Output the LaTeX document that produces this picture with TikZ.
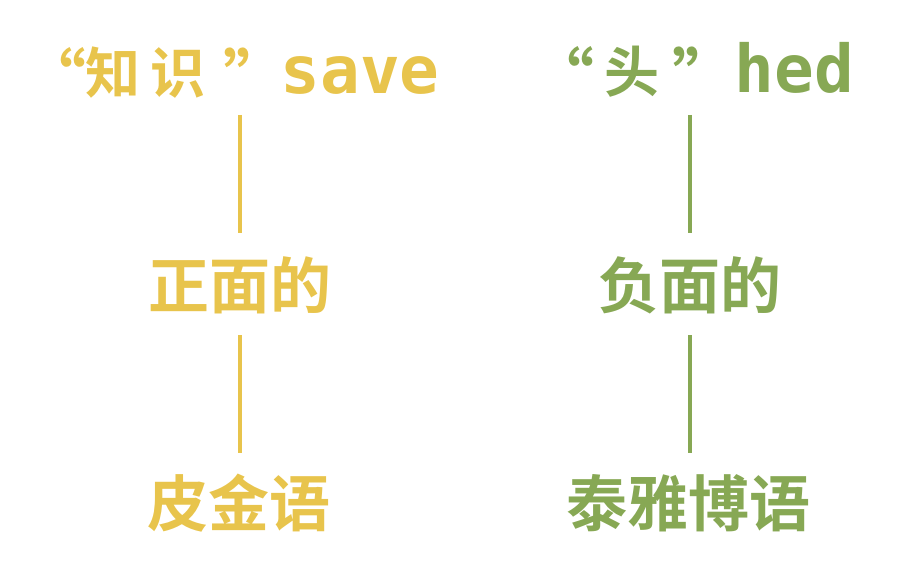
\documentclass[tikz,border=0pt]{standalone}
\usepackage{fontspec}
\newfontfamily\cjk{Noto Sans CJK SC}[BoldFont=* Bold]
\newfontfamily\lat{DejaVu Sans Mono}
\definecolor{ylw}{HTML}{E8C44C}
\definecolor{grn}{HTML}{87A854}
\newcommand\qt[1]{\raisebox{-9pt}{\fontsize{64}{64}\selectfont #1}}
\newcommand\lt[1]{{\lat\fontsize{66}{66}\selectfont #1}}
\newcommand\putat[2]{\rlap{\hspace*{#1}\makebox[0pt]{#2}}}
\tikzset{
  lbl/.style={inner sep=0pt, anchor=center},
  topf/.style={inner sep=0pt, anchor=base west, font=\cjk\bfseries\fontsize{55}{60}\selectfont},
  bigf/.style={font=\cjk\bfseries\fontsize{61}{66}\selectfont},
  conn/.style={line width=4.5pt},
}
\begin{document}
\begin{tikzpicture}[x=1pt,y=1pt]
\useasboundingbox (0,0) rectangle (902,-575);
\node[topf,text=ylw] (topL) at (50,-94) {\makebox[390pt][l]{\putat{4pt}{\qt{“}}\putat{63pt}{知}\putat{128pt}{识}\putat{205pt}{\qt{”}}\putat{310pt}{\lt{save}}}};
\node[topf,text=grn] (topR) at (560,-93) {\makebox[300pt][l]{\putat{2pt}{\qt{“}}\putat{72pt}{头}\putat{144pt}{\qt{”}}\putat{234pt}{\lt{hed}}}};
\node[lbl,bigf,text=ylw] (midL) at (240,-285) {正面的};
\node[lbl,bigf,text=grn] (midR) at (690,-285) {负面的};
\node[lbl,bigf,text=ylw] (botL) at (239,-503) {皮金语};
\node[lbl,bigf,text=grn] (botR) at (688,-503) {泰雅博语};
\draw[conn,ylw,shorten <=45pt,shorten >=52pt] (midL.center |- 0,-70) -- (midL.center);
\draw[conn,ylw,shorten <=50pt,shorten >=50pt] (midL.center) -- (botL.center -| midL.center);
\draw[conn,grn,shorten <=45pt,shorten >=52pt] (midR.center |- 0,-70) -- (midR.center);
\draw[conn,grn,shorten <=50pt,shorten >=50pt] (midR.center) -- (botR.center -| midR.center);
\end{tikzpicture}
\end{document}
